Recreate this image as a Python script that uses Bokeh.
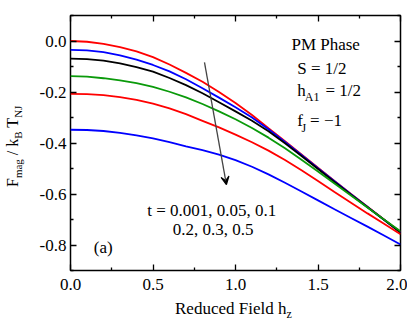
from bokeh.plotting import figure
from bokeh.models import (Range1d, LinearAxis, FixedTicker, Label, Arrow, VeeHead,
                          PrintfTickFormatter, Div)
from bokeh.layouts import row, column
from bokeh.embed import file_html
from bokeh.resources import INLINE

# reduced field h_z
h = [0.0, 0.1, 0.2, 0.3, 0.4, 0.5, 0.6, 0.7, 0.8, 0.9, 1.0,
     1.1, 1.2, 1.3, 1.4, 1.5, 1.6, 1.7, 1.8, 1.9, 2.0]

# F_mag / k_B T_NJ for each reduced temperature t
f_t0001 = [0.000, -0.003, -0.011, -0.024, -0.041, -0.063, -0.092, -0.125, -0.160, -0.200, -0.243,
           -0.290, -0.342, -0.393, -0.445, -0.497, -0.549, -0.600, -0.650, -0.700, -0.750]
f_t005 = [-0.035, -0.037, -0.044, -0.056, -0.073, -0.094, -0.119, -0.150, -0.185, -0.222, -0.260,
          -0.300, -0.346, -0.396, -0.447, -0.499, -0.550, -0.601, -0.651, -0.701, -0.751]
f_t01 = [-0.069, -0.071, -0.077, -0.088, -0.102, -0.120, -0.145, -0.173, -0.205, -0.240, -0.276,
         -0.313, -0.354, -0.401, -0.451, -0.502, -0.553, -0.603, -0.652, -0.701, -0.751]
f_t02 = [-0.138, -0.140, -0.146, -0.154, -0.165, -0.180, -0.199, -0.221, -0.247, -0.276, -0.307,
         -0.341, -0.379, -0.421, -0.466, -0.512, -0.559, -0.606, -0.653, -0.700, -0.746]
f_t03 = [-0.207, -0.208, -0.212, -0.220, -0.231, -0.246, -0.264, -0.287, -0.313, -0.339, -0.367,
         -0.397, -0.430, -0.467, -0.507, -0.549, -0.592, -0.634, -0.676, -0.717, -0.758]
f_t05 = [-0.348, -0.349, -0.353, -0.360, -0.370, -0.382, -0.397, -0.413, -0.428, -0.446, -0.467,
         -0.493, -0.523, -0.556, -0.590, -0.625, -0.660, -0.694, -0.728, -0.763, -0.798]

series = [f_t0001, f_t005, f_t01, f_t02, f_t03, f_t05]
colors = ["#ff0000", "#0000ff", "#000000", "#0a9a0a", "#ff0000", "#0000ff"]

x_ticks = [0.0, 0.5, 1.0, 1.5, 2.0]
x_minor = [0.25, 0.75, 1.25, 1.75]
y_ticks = [0.0, -0.2, -0.4, -0.6, -0.8]
y_minor = [0.1, -0.1, -0.3, -0.5, -0.7, -0.9]

FONT = "Liberation Serif"

p = figure(width=371, height=300, x_range=Range1d(0, 2), y_range=Range1d(-0.9, 0.1),
           output_backend="svg", toolbar_location=None, margin=0,
           min_border_left=34, min_border_right=7, min_border_top=15, min_border_bottom=30)
p.grid.visible = False
p.outline_line_color = "black"
p.outline_line_width = 1.5
p.background_fill_color = "white"
p.border_fill_color = "white"

for ys, c in zip(series, colors):
    p.line(h, ys, line_color=c, line_width=1.8)


def style_axis(ax, ticks, minor, show_labels):
    ax.ticker = FixedTicker(ticks=ticks, minor_ticks=minor)
    ax.axis_line_color = None
    ax.major_tick_in = 6
    ax.major_tick_out = 0
    ax.minor_tick_in = 3
    ax.minor_tick_out = 0
    ax.major_tick_line_width = 1.3
    ax.minor_tick_line_width = 1.3
    ax.major_tick_line_color = "black"
    ax.minor_tick_line_color = "black"
    if show_labels:
        ax.formatter = PrintfTickFormatter(format="%.1f")
        ax.major_label_text_font = FONT
        ax.major_label_text_font_size = "17px"
        ax.major_label_text_color = "black"
    else:
        ax.major_label_text_font_size = "0px"
        ax.major_label_text_color = None
        ax.major_label_standoff = 0


style_axis(p.xaxis[0], x_ticks, x_minor, True)
p.xaxis[0].major_label_standoff = 8
style_axis(p.yaxis[0], y_ticks, y_minor, True)
p.yaxis[0].major_label_standoff = 4

top_ax = LinearAxis()
style_axis(top_ax, x_ticks, x_minor, False)
p.add_layout(top_ax, "above")
right_ax = LinearAxis()
style_axis(right_ax, y_ticks, y_minor, False)
p.add_layout(right_ax, "right")


def lab(x, y, text, size="17px", align="left"):
    p.add_layout(Label(x=x, y=y, text=text, text_font=FONT, text_font_size=size,
                       text_color="black", text_align=align, text_baseline="alphabetic"))


SUB = "12px"
# parameter box
lab(1.339, -0.014, "PM Phase")
lab(1.374, -0.109, "S = 1/2")
lab(1.374, -0.194, "h")
lab(1.420, -0.218, "A1", SUB)
lab(1.545, -0.194, "= 1/2")
lab(1.374, -0.312, "f")
lab(1.400, -0.340, "J", SUB)
lab(1.452, -0.312, "= \u22121")

# temperature list
lab(0.465, -0.665, "t = 0.001, 0.05, 0.1")
lab(0.620, -0.738, "0.2, 0.3, 0.5")
lab(0.141, -0.810, "(a)")

# arrow showing increasing t
arrow_start = (0.812, -0.084)
arrow_end = (0.945, -0.563)
p.add_layout(Arrow(end=VeeHead(size=8, line_color="black", line_width=1.2),
                   x_start=arrow_start[0], y_start=arrow_start[1],
                   x_end=arrow_end[0], y_end=arrow_end[1],
                   line_color="#444444", line_width=1.3))

# axis titles as HTML text (with subscripts)
y_title = ('<div style="position:relative;width:36px;height:300px;overflow:visible;">'
           '<div style="position:absolute;left:5px;top:0;width:300px;height:28px;'
           'transform-origin:0 0;transform:translate(0px,300px) rotate(-90deg);'
           'white-space:nowrap;font-family:\'Liberation Serif\';font-size:16px;'
           'line-height:16px;color:black;padding-left:113px;box-sizing:border-box;">'
           'F<sub style="font-size:11px;">mag</sub> / k<sub style="font-size:11px;">B</sub>'
           ' T<sub style="font-size:11px;">NJ</sub></div></div>')
x_title = ('<div style="position:relative;width:371px;height:26px;overflow:visible;">'
           '<div style="position:absolute;left:139px;top:0px;white-space:nowrap;'
           'font-family:\'Liberation Serif\';font-size:17px;line-height:17px;color:black;">'
           'Reduced Field h<sub style="font-size:12px;">z</sub></div></div>')

ydiv = Div(text=y_title, width=36, height=300, margin=0)
xdiv = Div(text=x_title, width=371, height=26, margin=0)

layout = row(ydiv, column(p, xdiv, spacing=0, margin=0), spacing=0, margin=0)

open("out.html", "w").write(file_html(layout, INLINE))
